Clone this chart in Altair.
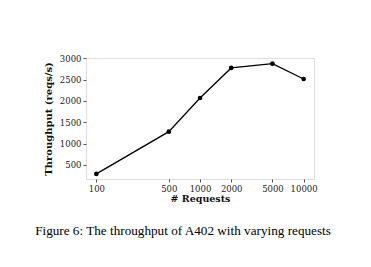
import altair as alt
import pandas as pd

requests = [100, 500, 1000, 2000, 5000, 10000]
throughput = [290, 1280, 2070, 2775, 2875, 2515]
x_ticks = [100, 500, 1000, 2000, 5000, 10000]
y_ticks = [500, 1000, 1500, 2000, 2500, 3000]
caption = "Figure 6: The throughput of A402 with varying requests"

df = pd.DataFrame({"req": requests, "tp": throughput})

x = alt.X("req:Q", scale=alt.Scale(type="log", domain=[79.4, 12589], nice=False),
          axis=alt.Axis(values=x_ticks, title="# Requests", grid=False, format="d",
                        labelFont="DejaVu Serif", labelFontSize=8.5, labelColor="#222",
                        titleFont="DejaVu Serif", titleFontSize=9.5, titleFontWeight="bold",
                        titleColor="#111", titlePadding=1, domain=False,
                        tickColor="#555", tickSize=3, labelPadding=2))
y = alt.Y("tp:Q", scale=alt.Scale(domain=[170, 3008], nice=False, zero=False),
          axis=alt.Axis(values=y_ticks, title="Throughput (reqs/s)", grid=False, format="d",
                        labelFont="DejaVu Serif", labelFontSize=8.5, labelColor="#222",
                        titleFont="DejaVu Serif", titleFontSize=10, titleFontWeight="bold",
                        titleColor="#111", titlePadding=6, domain=False,
                        tickColor="#555", tickSize=3, labelPadding=2))

line = alt.Chart(df).mark_line(color="black", strokeWidth=1.3).encode(x=x, y=y)
pts = alt.Chart(df).mark_circle(color="black", size=22, opacity=1).encode(x=x, y=y)

chart = (line + pts).properties(
    width=228, height=121,
    title=alt.TitleParams(caption, orient="bottom", anchor="middle", font="Liberation Serif",
                          fontSize=13.2, fontWeight="normal", color="black", offset=22, dx=-17),
    autosize=alt.AutoSizeParams(type="none"),
    padding={"left": 86, "top": 58, "right": 57, "bottom": 88},
).configure_view(stroke="#999", strokeWidth=1).configure(background="white")

chart.save("out.html", embed_options={"renderer": "svg", "actions": False})
